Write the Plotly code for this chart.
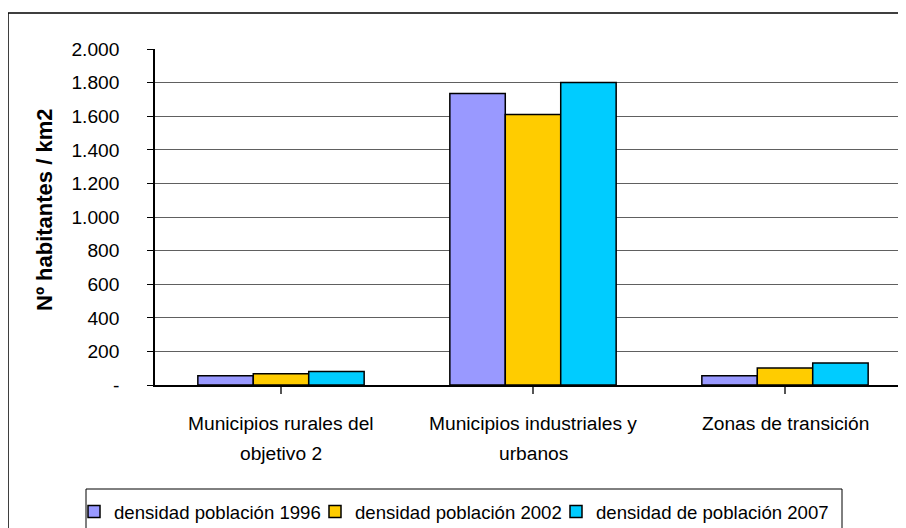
import plotly.graph_objects as go

categories = ["Municipios rurales del<br>objetivo 2",
              "Municipios industriales y<br>urbanos",
              "Zonas de transición"]
series_names = ["densidad población 1996", "densidad población 2002", "densidad de población 2007"]
values_1996 = [55, 1735, 55]
values_2002 = [67, 1610, 101]
values_2007 = [81, 1800, 131]
colors = ["#9999FF", "#FFCC00", "#00CCFF"]
ytick_vals = [0, 200, 400, 600, 800, 1000, 1200, 1400, 1600, 1800, 2000]
ytick_text = ["-", "200", "400", "600", "800", "1.000", "1.200", "1.400", "1.600", "1.800", "2.000"]
y_title = "Nº habitantes / km2"

FONT = "Liberation Sans, Arial, sans-serif"
FS = 19.2
FS_LEG = 18.6
# the page body has an 8px margin; figure is sized to fill the window
W, H = 898, 520
L, R, T, B = 147, 0, 41, 143
pw, ph = W - L - R, H - T - B

def px_x(p):
    return (p - L) / pw

def px_y(p):
    return (H - B - p) / ph

fig = go.Figure()
n_series = len(series_names)
for k, (name, vals, col) in enumerate(zip(series_names, [values_1996, values_2002, values_2007], colors)):
    extra = {"legendwidth": 196} if k < n_series - 1 else {}
    fig.add_trace(go.Bar(
        x=list(range(len(categories))), y=vals, name=name,
        marker=dict(color=col, line=dict(color="black", width=1.5)),
        **extra,
    ))

annotations = []
for i, cat in enumerate(categories):
    for j, line in enumerate(cat.split("<br>")):
        annotations.append(dict(
            x=i, xref="x", y=px_y(415 + 30 * j), yref="paper",
            text=line, showarrow=False, xanchor="center", yanchor="middle",
            font=dict(family=FONT, size=FS, color="black"),
        ))
annotations.append(dict(
    x=px_x(36), xref="paper", y=px_y(202), yref="paper",
    text="<b>" + y_title + "</b>", textangle=-90, showarrow=False,
    xanchor="center", yanchor="middle",
    font=dict(family=FONT, size=22, color="black"),
))

fig.update_layout(
    width=W, height=H,
    margin=dict(l=L, r=R, t=T, b=B, autoexpand=False),
    paper_bgcolor="white", plot_bgcolor="white",
    barmode="group", bargap=0.34, bargroupgap=0,
    font=dict(family=FONT, size=FS, color="black"),
    showlegend=True,
    legend=dict(
        orientation="h", x=px_x(66), xanchor="left", y=px_y(485), yanchor="top",
        bgcolor="rgba(0,0,0,0)", borderwidth=0,
        font=dict(family=FONT, size=FS_LEG, color="black"),
        itemwidth=30, traceorder="normal",
    ),
    annotations=annotations,
    shapes=[
        dict(type="rect", xref="paper", yref="paper",
             x0=px_x(0), x1=px_x(905), y0=px_y(540), y1=px_y(5),
             line=dict(color="black", width=1.5), fillcolor="rgba(0,0,0,0)", layer="below"),
        dict(type="rect", xref="paper", yref="paper",
             x0=px_x(78), x1=px_x(834), y0=px_y(540), y1=px_y(481),
             line=dict(color="black", width=1), fillcolor="white", layer="below"),
    ],
)

fig.update_xaxes(
    range=[-0.5, -0.5 + pw / 252.0],
    tickvals=list(range(len(categories))), ticktext=["" for _ in categories],
    showticklabels=False,
    tickson="boundaries", ticks="outside", ticklen=7, tickcolor="#555555", tickwidth=1.5,
    showline=True, linecolor="black", linewidth=1.5,
    showgrid=False, zeroline=False,
)
fig.update_yaxes(
    range=[0, 2000],
    tickvals=ytick_vals, ticktext=ytick_text,
    ticks="outside", ticklen=6, tickcolor="black", tickwidth=1,
    ticklabelstandoff=24,
    tickfont=dict(family=FONT, size=FS, color="black"),
    showline=True, linecolor="black", linewidth=1.5,
    showgrid=True, gridcolor="#606060", gridwidth=1,
    zeroline=False,
)

fig.write_html("out.html")
